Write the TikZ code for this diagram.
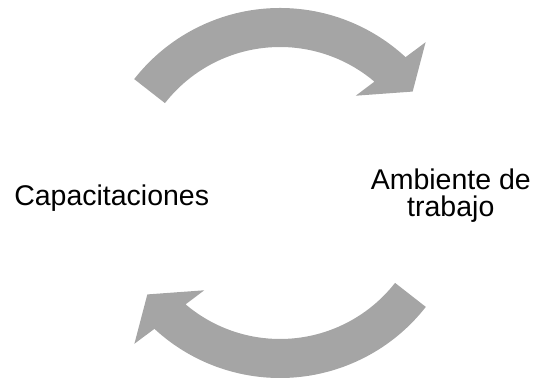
\documentclass[tikz,border=0pt]{standalone}
\usepackage{fontspec}
\setmainfont{Liberation Sans}
\definecolor{arrowgray}{HTML}{A5A5A5}
\tikzset{
  cyclearrow/.style={fill=arrowgray, draw=none},
  label text/.style={inner sep=0pt, align=center, font=\fontsize{28.5}{26.4}\selectfont}
}
\begin{document}
\begin{tikzpicture}
\useasboundingbox (0,0) rectangle (536pt,380pt);
\coordinate (C) at (280pt,187pt);
% upper arrow
\fill[cyclearrow] ([shift={(C)}]142:185pt) arc[start angle=142, end angle=47.25, radius=185pt]
  -- ([shift={(C)}]46:209.6pt) -- ([shift={(C)}]37.4:167pt) -- ([shift={(C)}]52.1:123.3pt)
  -- ([shift={(C)}]49.7:146pt) arc[start angle=49.7, end angle=142, radius=146pt] -- cycle;
% lower arrow
\fill[cyclearrow] ([shift={(C)}]322:185pt) arc[start angle=322, end angle=227.25, radius=185pt]
  -- ([shift={(C)}]226:209.6pt) -- ([shift={(C)}]217.4:167pt) -- ([shift={(C)}]232.1:123.3pt)
  -- ([shift={(C)}]229.7:146pt) arc[start angle=229.7, end angle=322, radius=146pt] -- cycle;
\node[label text, anchor=base] (cap) at (111.7pt,174.3pt) {Capacitaciones};
\node[label text, anchor=north] (amb) at (450.8pt,211.1pt) {Ambiente de\\trabajo};
\end{tikzpicture}
\end{document}
